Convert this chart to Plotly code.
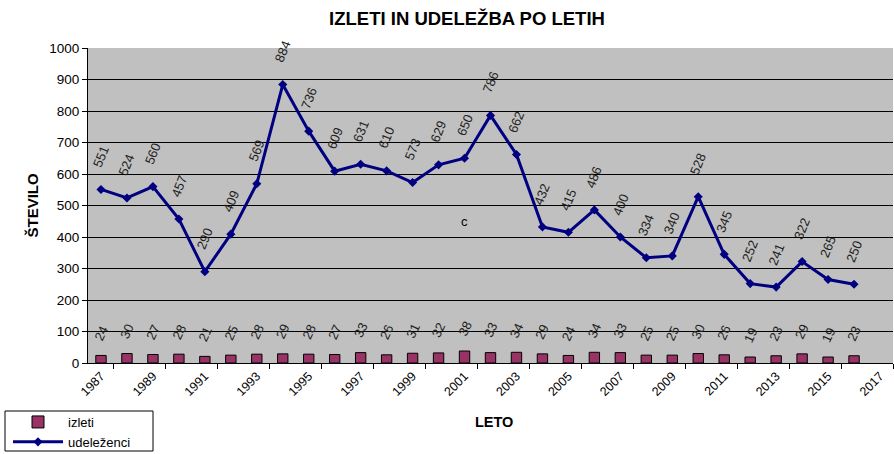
import plotly.graph_objects as go

years = list(range(1987, 2017))
izleti = [24, 30, 27, 28, 21, 25, 28, 29, 28, 27, 33, 26, 31, 32, 38,
          33, 34, 29, 24, 34, 33, 25, 25, 30, 26, 19, 23, 29, 19, 23]
udelezenci = [551, 524, 560, 457, 290, 409, 569, 884, 736, 609, 631, 610, 573, 629, 650,
              786, 662, 432, 415, 486, 400, 334, 340, 528, 345, 252, 241, 322, 265, 250]
tick_years = list(range(1987, 2018, 2))

FONT = "Liberation Sans, Arial, sans-serif"
W, H = 894, 454
L, R, T, B = 88, 1, 48, 91
PW, PH = W - L - R, H - T - B


def px_x(p):
    return (p - L) / PW


def px_y(p):
    return (H - B - p) / PH


fig = go.Figure()
fig.add_trace(go.Bar(x=years, y=izleti, name="izleti", width=0.4,
                     marker=dict(color="#993366", line=dict(color="black", width=1))))
fig.add_trace(go.Scatter(x=years, y=udelezenci, name="udeleženci", mode="lines+markers",
                         line=dict(color="#000080", width=3),
                         marker=dict(symbol="diamond", size=7, color="#000080")))

ann = []
for x, v in zip(years, izleti):
    ann.append(dict(x=x, y=v, xref="x", yref="y", text=str(v), showarrow=False,
                    textangle=-65, yshift=22, font=dict(family=FONT, size=13, color="#222")))
for x, v in zip(years, udelezenci):
    ann.append(dict(x=x, y=v, xref="x", yref="y", text=str(v), showarrow=False,
                    textangle=-68, yshift=33, font=dict(family=FONT, size=13, color="#222")))
ann.append(dict(x=2001, y=450, xref="x", yref="y", text="c", showarrow=False,
                font=dict(family=FONT, size=13, color="black")))
ann.append(dict(x=px_x(21), y=px_y(205), xref="paper", yref="paper", text="<b>ŠTEVILO</b>",
                textangle=-90, showarrow=False, font=dict(family=FONT, size=15, color="black")))
ann.append(dict(x=px_x(494), y=px_y(432), xref="paper", yref="paper",
                text="<b>LETO</b>", showarrow=False, font=dict(family=FONT, size=14.5, color="black")))

fig.update_layout(
    width=W, height=H,
    margin=dict(l=L, r=R, t=T, b=B, autoexpand=False),
    paper_bgcolor="white", plot_bgcolor="#C0C0C0",
    title=dict(text="<b>IZLETI IN UDELEŽBA PO LETIH</b>", x=467 / W, xref="container",
               xanchor="center", y=1 - 19 / H, yref="container", yanchor="middle",
               font=dict(family=FONT, size=18.5, color="black")),
    font=dict(family=FONT, size=12, color="black"),
    showlegend=True,
    legend=dict(x=px_x(8), y=px_y(407), xanchor="left", yanchor="top",
                borderwidth=0, bgcolor="rgba(0,0,0,0)",
                font=dict(family=FONT, size=13, color="black"),
                tracegroupgap=0, itemwidth=50),
    shapes=[dict(type="rect", xref="paper", yref="paper",
                 x0=px_x(5), x1=px_x(153), y0=px_y(451), y1=px_y(411),
                 line=dict(color="black", width=1), fillcolor="rgba(0,0,0,0)")],
    annotations=ann,
    bargap=0.6,
)
fig.update_xaxes(range=[1986.5, 2017.5], tickvals=tick_years, ticktext=[str(t) for t in tick_years],
                 tickangle=-45, ticks="", showgrid=False, showline=True, linecolor="black",
                 tickfont=dict(family=FONT, size=12.5, color="black"),
                 minor=dict(tick0=1987.5, dtick=2, ticks="outside", ticklen=5, tickcolor="black",
                            showgrid=False),
                 zeroline=False, automargin=False)
fig.update_yaxes(range=[0, 1000], dtick=100, showgrid=True, gridcolor="black", gridwidth=1,
                 showline=True, linecolor="black", ticks="outside", ticklen=5, tickcolor="black",
                 tickfont=dict(family=FONT, size=13.5, color="black"), zeroline=False, automargin=False)

fig.write_html("out.html", config={"displayModeBar": False},
               post_script="document.body.style.margin='0';")
